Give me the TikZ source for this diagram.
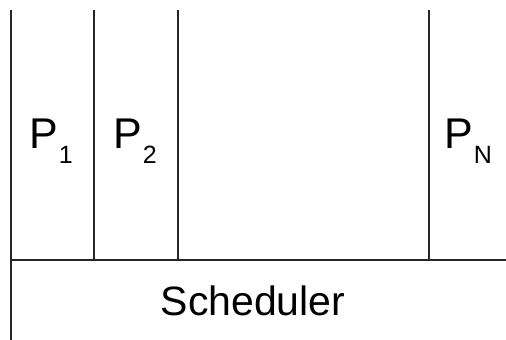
\documentclass[tikz,border=0pt]{standalone}
\usepackage{fontspec}
\setmainfont{Liberation Sans}
\usetikzlibrary{positioning}

\tikzset{
  wall/.style={line width=1.3pt, black!85},
  proc/.style={inner sep=0pt, anchor=base west, font=\fontsize{43}{43}\selectfont},
  sched/.style={inner sep=0pt, anchor=base, font=\fontsize{41}{41}\selectfont}
}
\newcommand{\procname}[2]{P\kern1pt\raisebox{-15pt}{\fontsize{25}{25}\selectfont #2}}

\begin{document}
\begin{tikzpicture}[x=1pt, y=-1pt]
\useasboundingbox (0,0) rectangle (506,340);
% walls between the processes
\coordinate (top0) at (11,10);  \coordinate (bot0) at (11,340);
\coordinate (top1) at (94,10);  \coordinate (bot1) at (94,260);
\coordinate (top2) at (178,10); \coordinate (bot2) at (178,260);
\coordinate (topN) at (429,10); \coordinate (botN) at (429,260);
\coordinate (floorL) at (11,260); \coordinate (floorR) at (506,260);
\draw[wall] (top0) -- (bot0);
\draw[wall] (top1) -- (bot1);
\draw[wall] (top2) -- (bot2);
\draw[wall] (topN) -- (botN);
\draw[wall] (floorL) -- (floorR);
% labels
\node[proc] (p1) at (29,148) {\procname{P}{1}};
\node[proc] (p2) at (113,148) {\procname{P}{2}};
\node[proc] (pN) at (444,148) {\procname{P}{N}};
\node[sched] (sch) at (253,315) {Scheduler};
\end{tikzpicture}
\end{document}
